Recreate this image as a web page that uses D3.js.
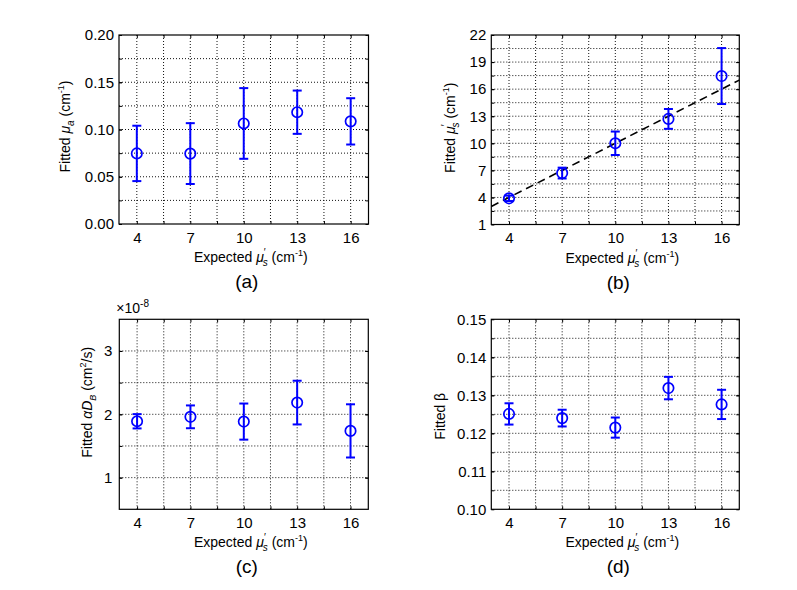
<!DOCTYPE html>
<html><head><meta charset="utf-8">
<script src="https://cdn.jsdelivr.net/npm/d3@7/dist/d3.min.js"></script>
<style>body{margin:0;background:#fff} text{font-family:Arial,"Liberation Sans",sans-serif;fill:#000}</style>
</head><body><svg id="chart" width="797" height="590"></svg>
<script>
// ---- data ----
const categories = [4, 7, 10, 13, 16];
const xTicks = [4, 7, 10, 13, 16];

const muA    = [0.0747, 0.0745, 0.1064, 0.1183, 0.1086];
const muAErr = [0.0293, 0.0322, 0.0374, 0.0229, 0.0245];
const muATicks = [0, 0.05, 0.10, 0.15, 0.20];

const muS    = [3.9, 6.7, 10.0, 12.7, 17.45];
const muSErr = [0.3, 0.6, 1.3, 1.1, 3.1];
const muSTicks = [1, 4, 7, 10, 13, 16, 19, 22];
const fitLineX = [3, 17];
const fitLineY = [3, 17];

const aDb    = [1.89, 1.96, 1.885, 2.185, 1.738];
const aDbErr = [0.113, 0.18, 0.285, 0.345, 0.42];
const aDbTicks = [1, 2, 3];

const beta    = [0.1251, 0.1240, 0.1215, 0.1319, 0.1276];
const betaErr = [0.0028, 0.0022, 0.00265, 0.00295, 0.00385];
const betaTicks = [0.10, 0.11, 0.12, 0.13, 0.14, 0.15];

// ---- drawing ----
const svg = d3.select('#chart');
const BLUE = '#0000ff';
const FONT = 'Arial, "Liberation Sans", sans-serif';

function midpoints(arr) {
  const out = arr.slice();
  for (let i = 0; i < arr.length - 1; i++) out.push((arr[i] + arr[i + 1]) / 2);
  return out.sort((a, b) => a - b);
}

function panel(cfg) {
  const W = cfg.w, H = cfg.h;
  const g = svg.append('g').attr('transform', `translate(${cfg.left},${cfg.top})`);
  const x = d3.scaleLinear().domain([3, 17]).range([0, W]);
  const y = d3.scaleLinear().domain(cfg.yDomain).range([H, 0]);
  const xGrid = midpoints(xTicks);
  const yGrid = midpoints(cfg.yTicks).filter(v => v > cfg.yDomain[0] + 1e-9 && v < cfg.yDomain[1] - 1e-9);

  // grid
  const grid = g.append('g').attr('stroke', '#111').attr('stroke-width', 1).attr('stroke-dasharray', '1,2');
  grid.selectAll('.gx').data(xGrid).join('line')
    .attr('x1', d => x(d)).attr('x2', d => x(d)).attr('y1', 0).attr('y2', H);
  grid.selectAll('.gy').data(yGrid).join('line')
    .attr('y1', d => y(d)).attr('y2', d => y(d)).attr('x1', 0).attr('x2', W);

  // inward ticks on all sides
  const tk = (sel) => sel.call(s => s.select('.domain').remove());
  g.append('g').attr('transform', `translate(0,${H})`).call(d3.axisBottom(x).tickValues(xGrid).tickSize(-3).tickFormat('')).call(tk);
  g.append('g').call(d3.axisTop(x).tickValues(xGrid).tickSize(-3).tickFormat('')).call(tk);
  g.append('g').call(d3.axisLeft(y).tickValues(yGrid.concat(cfg.yTicks)).tickSize(-3).tickFormat('')).call(tk);
  g.append('g').attr('transform', `translate(${W},0)`).call(d3.axisRight(y).tickValues(yGrid.concat(cfg.yTicks)).tickSize(-3).tickFormat('')).call(tk);

  // tick labels
  const xa = g.append('g').attr('transform', `translate(0,${H})`)
    .call(d3.axisBottom(x).tickValues(xTicks).tickSize(0).tickPadding(8).tickFormat(d3.format('d')));
  xa.select('.domain').remove();
  xa.selectAll('text').style('font-size', '15px').style('font-family', FONT);
  const ya = g.append('g')
    .call(d3.axisLeft(y).tickValues(cfg.yTicks).tickSize(0).tickPadding(cfg.yPad).tickFormat(cfg.fmt));
  ya.select('.domain').remove();
  ya.selectAll('text').style('font-size', '15px').style('font-family', FONT);

  // frame
  g.append('rect').attr('width', W).attr('height', H).attr('fill', 'none').attr('stroke', '#000').attr('stroke-width', 1.2);

  // optional fit line
  if (cfg.line) {
    g.append('line')
      .attr('x1', x(cfg.line[0][0])).attr('y1', y(cfg.line[1][0]))
      .attr('x2', x(cfg.line[0][1])).attr('y2', y(cfg.line[1][1]))
      .attr('stroke', '#000').attr('stroke-width', 1.6).attr('stroke-dasharray', '8,5');
  }

  // error bars + markers
  const pts = categories.map((c, i) => ({c, v: cfg.vals[i], e: cfg.errs[i]}));
  const eb = g.append('g').attr('stroke', BLUE).attr('stroke-width', 2).attr('fill', 'none');
  eb.selectAll('.v').data(pts).join('line')
    .attr('x1', d => x(d.c)).attr('x2', d => x(d.c))
    .attr('y1', d => y(d.v - d.e)).attr('y2', d => y(d.v + d.e));
  eb.selectAll('.t').data(pts).join('line')
    .attr('x1', d => x(d.c) - 4.5).attr('x2', d => x(d.c) + 4.5)
    .attr('y1', d => y(d.v + d.e)).attr('y2', d => y(d.v + d.e));
  eb.selectAll('.b').data(pts).join('line')
    .attr('x1', d => x(d.c) - 4.5).attr('x2', d => x(d.c) + 4.5)
    .attr('y1', d => y(d.v - d.e)).attr('y2', d => y(d.v - d.e));
  g.append('g').selectAll('circle').data(pts).join('circle')
    .attr('cx', d => x(d.c)).attr('cy', d => y(d.v)).attr('r', 5.2)
    .attr('fill', 'none').attr('stroke', BLUE).attr('stroke-width', 1.7);

  // x title
  const t = g.append('text').attr('x', W / 2 + 7).attr('y', H + 38)
    .attr('text-anchor', 'middle').style('font-size', '14px');
  t.append('tspan').text('Expected ');
  t.append('tspan').text('μ').style('font-style', 'italic');
  t.append('tspan').text('′').attr('dy', -6).style('font-size', '10px');
  t.append('tspan').text('s').attr('dx', -3).attr('dy', 10).style('font-size', '10px').style('font-style', 'italic');
  t.append('tspan').text(' (cm').attr('dy', -4);
  t.append('tspan').text('-1').attr('dy', -6).style('font-size', '9px');
  t.append('tspan').text(')').attr('dy', 6);

  // panel label
  g.append('text').attr('x', W / 2 + 3).attr('y', H + 64).attr('text-anchor', 'middle')
    .style('font-size', '19px').text(cfg.label);

  // y title
  const yt = g.append('text')
    .attr('transform', `translate(${cfg.ytX},${H / 2 + cfg.ytDy}) rotate(-90)`)
    .attr('text-anchor', 'middle').style('font-size', '14px');
  cfg.ytitle(yt);

  return {g, x, y};
}

// (a)
panel({
  left: 119, top: 35, w: 249.5, h: 189,
  yDomain: [0, 0.20], yTicks: muATicks, fmt: d3.format('.2f'), yPad: 5,
  vals: muA, errs: muAErr, label: '(a)', ytX: -49, ytDy: -3,
  ytitle: t => {
    t.append('tspan').text('Fitted ');
    t.append('tspan').text('μ').style('font-style', 'italic');
    t.append('tspan').text('a').attr('dy', 4).style('font-size', '10px').style('font-style', 'italic');
    t.append('tspan').text(' (cm').attr('dy', -4);
    t.append('tspan').text('-1').attr('dy', -6).style('font-size', '9px');
    t.append('tspan').text(')').attr('dy', 6);
  }
});

// (b)
panel({
  left: 491.3, top: 35, w: 248, h: 189.5,
  yDomain: [1, 22], yTicks: muSTicks, fmt: d3.format('d'), yPad: 5,
  vals: muS, errs: muSErr, label: '(b)', ytX: -36, ytDy: -2,
  line: [fitLineX, fitLineY],
  ytitle: t => {
    t.append('tspan').text('Fitted ');
    t.append('tspan').text('μ').style('font-style', 'italic');
    t.append('tspan').text('′').attr('dy', -6).style('font-size', '10px');
    t.append('tspan').text('s').attr('dx', -3).attr('dy', 10).style('font-size', '10px').style('font-style', 'italic');
    t.append('tspan').text(' (cm').attr('dy', -4);
    t.append('tspan').text('-1').attr('dy', -6).style('font-size', '9px');
    t.append('tspan').text(')').attr('dy', 6);
  }
});

// (c)
const pc = panel({
  left: 119.3, top: 319.3, w: 249, h: 190,
  yDomain: [0.5, 3.5], yTicks: aDbTicks, fmt: d3.format('d'), yPad: 7,
  vals: aDb, errs: aDbErr, label: '(c)', ytX: -27, ytDy: -12,
  ytitle: t => {
    t.append('tspan').text('Fitted ');
    t.append('tspan').text('αD').style('font-style', 'italic');
    t.append('tspan').text('B').attr('dy', 4).style('font-size', '9px').style('font-style', 'italic');
    t.append('tspan').text(' (cm').attr('dy', -4);
    t.append('tspan').text('2').attr('dy', -6).style('font-size', '9px');
    t.append('tspan').text('/s)').attr('dy', 6);
  }
});
const ex = pc.g.append('text').attr('x', -3).attr('y', -6).style('font-size', '14px');
ex.append('tspan').text('×10');
ex.append('tspan').text('-8').attr('dy', -6).style('font-size', '10px');

// (d)
panel({
  left: 491.3, top: 319.3, w: 248, h: 190,
  yDomain: [0.10, 0.15], yTicks: betaTicks, fmt: d3.format('.2f'), yPad: 5,
  vals: beta, errs: betaErr, label: '(d)', ytX: -46, ytDy: 2,
  ytitle: t => { t.append('tspan').text('Fitted β'); }
});
</script></body></html>
